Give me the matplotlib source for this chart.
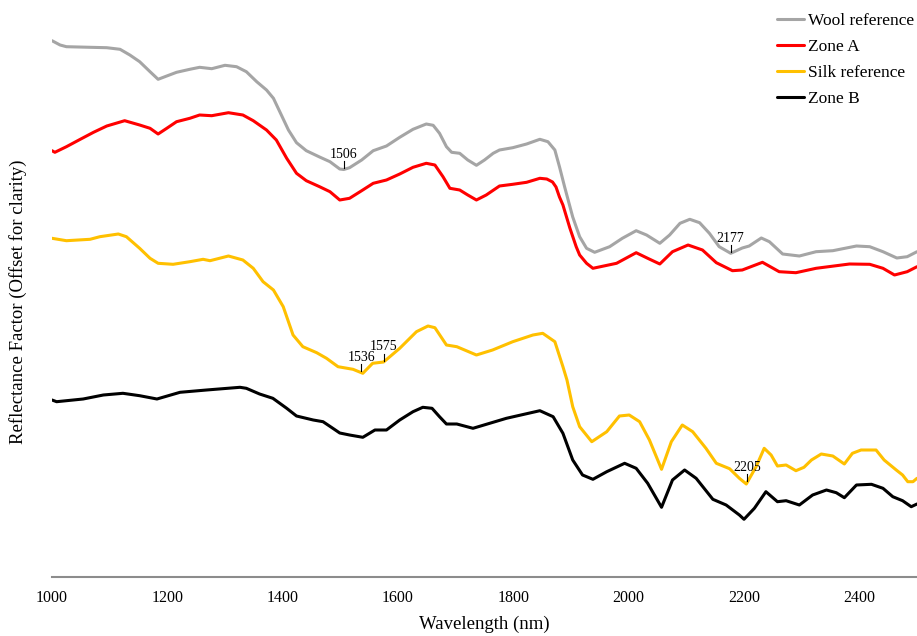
import numpy as np
import matplotlib
matplotlib.use("Agg")
import matplotlib.pyplot as plt

plt.rcParams['font.family'] = ['Liberation Serif', 'DejaVu Serif']

# ---- data (offset reflectance, arbitrary units) ----
wool_nm = [1000, 1014, 1025, 1066, 1095, 1118, 1135, 1152, 1170, 1184, 1199, 1216, 1239, 1256, 1277,
           1300, 1320, 1337, 1355, 1372, 1384, 1395, 1410, 1424, 1441, 1464, 1482, 1499, 1506, 1516,
           1537, 1557, 1580, 1603, 1626, 1649, 1661, 1672, 1684, 1693, 1707, 1721, 1736, 1750, 1765,
           1776, 1799, 1823, 1846, 1860, 1872, 1880, 1889, 1903, 1915, 1927, 1941, 1967, 1989, 2013,
           2031, 2054, 2071, 2089, 2106, 2123, 2140, 2157, 2177, 2197, 2209, 2230, 2244, 2267, 2296,
           2325, 2354, 2395, 2418, 2441, 2465, 2483, 2500]
wool_val = [5.363, 5.320, 5.303, 5.297, 5.293, 5.277, 5.220, 5.153, 5.053, 4.977, 5.010, 5.047, 5.077,
            5.097, 5.083, 5.117, 5.103, 5.053, 4.953, 4.870, 4.787, 4.653, 4.470, 4.343, 4.263, 4.200,
            4.153, 4.080, 4.075, 4.093, 4.170, 4.263, 4.310, 4.397, 4.477, 4.530, 4.517, 4.437, 4.303,
            4.247, 4.237, 4.170, 4.117, 4.170, 4.237, 4.270, 4.293, 4.330, 4.377, 4.353, 4.270, 4.103,
            3.900, 3.600, 3.403, 3.287, 3.247, 3.303, 3.387, 3.463, 3.420, 3.337, 3.420, 3.537, 3.577,
            3.543, 3.437, 3.303, 3.237, 3.290, 3.310, 3.390, 3.353, 3.230, 3.210, 3.253, 3.263, 3.310,
            3.303, 3.253, 3.190, 3.203, 3.253]

zoneA_nm = [1000, 1005, 1025, 1049, 1072, 1095, 1126, 1152, 1170, 1184, 1199, 1216, 1239, 1256, 1277,
            1306, 1331, 1349, 1372, 1389, 1407, 1424, 1441, 1464, 1482, 1499, 1516, 1537, 1557, 1580,
            1603, 1626, 1649, 1664, 1678, 1690, 1707, 1721, 1736, 1753, 1776, 1799, 1823, 1846, 1858,
            1868, 1874, 1880, 1886, 1898, 1909, 1915, 1927, 1938, 1979, 2013, 2033, 2054, 2076, 2103,
            2128, 2152, 2180, 2197, 2232, 2261, 2290, 2325, 2383, 2418, 2441, 2461, 2483, 2500]
zoneA_val = [4.263, 4.247, 4.303, 4.377, 4.447, 4.510, 4.563, 4.520, 4.487, 4.430, 4.487, 4.553, 4.587,
             4.620, 4.613, 4.643, 4.620, 4.563, 4.470, 4.370, 4.187, 4.037, 3.963, 3.903, 3.853, 3.770,
             3.787, 3.863, 3.937, 3.970, 4.030, 4.097, 4.137, 4.120, 4.003, 3.887, 3.870, 3.820, 3.770,
             3.820, 3.910, 3.927, 3.947, 3.987, 3.980, 3.950, 3.900, 3.800, 3.720, 3.490, 3.303, 3.220,
             3.137, 3.087, 3.137, 3.243, 3.187, 3.130, 3.253, 3.320, 3.270, 3.143, 3.063, 3.070, 3.147,
             3.053, 3.043, 3.087, 3.130, 3.127, 3.087, 3.020, 3.053, 3.103]

silk_nm = [1000, 1025, 1066, 1083, 1115, 1129, 1152, 1170, 1184, 1210, 1239, 1262, 1274, 1306, 1331,
           1349, 1366, 1384, 1401, 1418, 1435, 1459, 1476, 1496, 1522, 1539, 1556, 1575, 1603, 1632,
           1652, 1664, 1684, 1702, 1736, 1764, 1799, 1834, 1851, 1872, 1886, 1893, 1903, 1915, 1936,
           1962, 1984, 2001, 2019, 2036, 2057, 2074, 2093, 2111, 2134, 2152, 2175, 2192, 2204, 2221,
           2235, 2247, 2258, 2273, 2290, 2304, 2317, 2334, 2354, 2374, 2388, 2403, 2429, 2443, 2464,
           2475, 2484, 2493, 2500]
silk_val = [3.387, 3.363, 3.377, 3.403, 3.430, 3.403, 3.287, 3.187, 3.137, 3.127, 3.153, 3.177, 3.163,
            3.210, 3.170, 3.087, 2.953, 2.870, 2.703, 2.420, 2.303, 2.243, 2.187, 2.103, 2.077, 2.037,
            2.137, 2.150, 2.287, 2.453, 2.510, 2.493, 2.320, 2.303, 2.220, 2.270, 2.353, 2.420, 2.437,
            2.353, 2.103, 1.970, 1.703, 1.503, 1.353, 1.453, 1.610, 1.620, 1.553, 1.370, 1.077, 1.353,
            1.520, 1.453, 1.287, 1.137, 1.083, 0.987, 0.930, 1.103, 1.287, 1.220, 1.110, 1.120, 1.063,
            1.097, 1.170, 1.230, 1.210, 1.130, 1.237, 1.270, 1.270, 1.170, 1.070, 1.020, 0.953, 0.953,
            0.987]

zoneB_nm = [1000, 1008, 1054, 1089, 1123, 1152, 1182, 1222, 1268, 1326, 1337, 1360, 1383, 1407, 1424,
            1453, 1470, 1487, 1499, 1516, 1539, 1560, 1580, 1603, 1626, 1643, 1659, 1672, 1684, 1702,
            1730, 1788, 1846, 1869, 1886, 1903, 1920, 1938, 1962, 1993, 2013, 2033, 2057, 2076, 2097,
            2117, 2146, 2169, 2192, 2200, 2218, 2238, 2258, 2273, 2296, 2319, 2343, 2360, 2374, 2395,
            2421, 2441, 2458, 2475, 2490, 2500]
zoneB_val = [1.770, 1.753, 1.780, 1.820, 1.837, 1.813, 1.780, 1.847, 1.870, 1.897, 1.887, 1.830, 1.787,
             1.687, 1.610, 1.570, 1.553, 1.487, 1.440, 1.420, 1.397, 1.470, 1.470, 1.570, 1.653, 1.697,
             1.687, 1.603, 1.530, 1.530, 1.487, 1.587, 1.663, 1.603, 1.437, 1.170, 1.020, 0.977, 1.053,
             1.137, 1.087, 0.937, 0.697, 0.970, 1.070, 0.987, 0.777, 0.720, 0.620, 0.577, 0.687, 0.853,
             0.753, 0.763, 0.720, 0.820, 0.870, 0.843, 0.793, 0.920, 0.927, 0.887, 0.803, 0.763, 0.703,
             0.730]

x_ticks = [1000, 1200, 1400, 1600, 1800, 2000, 2200, 2400]
series_names = ['Wool reference', 'Zone A', 'Silk reference', 'Zone B']
series_colors = ['#A5A5A5', '#FF0000', '#FFC000', '#000000']

annot_labels = [1506, 1536, 1575, 2177, 2205]
annot_series = [0, 2, 2, 0, 2]

# ---- figure ----
fig = plt.figure(figsize=(9.17, 6.36), dpi=100)
ax = fig.add_axes([52 / 917, 1 - 577 / 636, 1 - 52 / 917, (577 - 10) / 636])

xs = [wool_nm, zoneA_nm, silk_nm, zoneB_nm]
ys = [wool_val, zoneA_val, silk_val, zoneB_val]
for x, y, name, c in zip(xs, ys, series_names, series_colors):
    ax.plot(x, y, color=c, lw=2.2, label=name, solid_joinstyle='round', solid_capstyle='round')

for lab, si in zip(annot_labels, annot_series):
    yc = float(np.interp(lab, xs[si], ys[si]))
    ax.plot([lab, lab], [yc + 0.015, yc + 0.085], color='black', lw=0.8)
    ax.text(lab, yc + 0.085, str(lab), ha='center', va='bottom', fontsize=10)

ax.set_xlim(1000, 2500)
ax.set_ylim(0, 5.67)
ax.set_xticks(x_ticks)
ax.set_xticklabels([str(t) for t in x_ticks], fontsize=11.5)
ax.set_yticks([])
ax.tick_params(axis='x', length=0, pad=9)
for s in ['left', 'right', 'top']:
    ax.spines[s].set_visible(False)
ax.spines['bottom'].set_color('#8C8C8C')
ax.spines['bottom'].set_linewidth(1.5)

ax.set_xlabel('Wavelength (nm)', fontsize=13.5, labelpad=7)
fig.text(18 / 917, 1 - 302 / 636, 'Reflectance Factor (Offset for clarity)', rotation=90,
         ha='center', va='center', fontsize=13.5)

leg = ax.legend(loc='upper left', bbox_to_anchor=(777 / 917, 1 - 13 / 636), bbox_transform=fig.transFigure,
                frameon=False, fontsize=12.5, handlelength=1.55, handletextpad=0.25,
                labelspacing=0.56, borderaxespad=0, borderpad=0)

fig.savefig('out.png', dpi=100)
